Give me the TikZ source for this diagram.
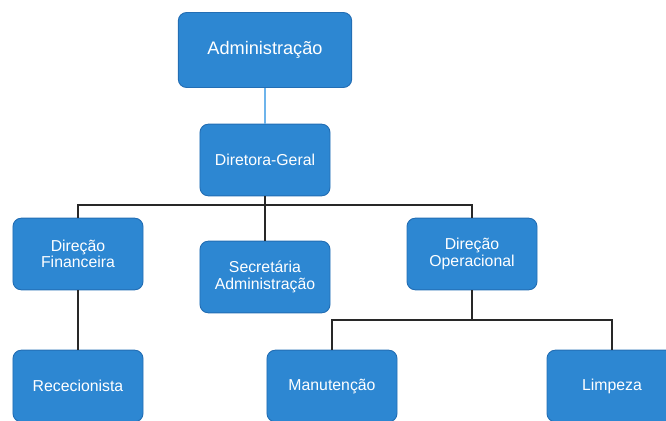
\documentclass[tikz,border=0pt]{standalone}
\usepackage{fontspec}
\setmainfont{Liberation Sans}
\begin{document}
\begin{tikzpicture}[x=0.03cm, y=-0.03cm,
    unit/.style={draw=myedge, fill=myblue, rounded corners=0.25cm, line width=0.8pt,
        text=white, align=center, minimum width=3.9cm, minimum height=2.15cm,
        font=\fontsize{13.5}{14}\selectfont},
    link/.style={draw=mylink, line width=0.9pt}]
    \definecolor{myblue}{RGB}{45,135,210}
    \definecolor{myedge}{RGB}{35,110,180}
    \definecolor{mylink}{RGB}{40,40,40}
    \definecolor{mytop}{RGB}{110,180,235}

    \useasboundingbox (0,0) rectangle (666,421);

    \node[unit, minimum width=5.2cm, minimum height=2.25cm,
        font=\fontsize{15.5}{17}\selectfont] (adm) at (265,50) {Administração};
    \node[unit] (geral) at (265,160) {Diretora-Geral};
    \node[unit] (fin) at (78,254) {Direção\\Financeira};
    \node[unit] (sec) at (265,277) {Secretária\\Administração};
    \node[unit] (oper) at (472,254) {Direção\\Operacional};
    \node[unit] (rec) at (78,386) {Rececionista};
    \node[unit] (man) at (332,386) {Manutenção};
    \node[unit] (limp) at (612,386) {Limpeza};

    \coordinate (bus) at (265,205);
    \coordinate (subbus) at (472,320);

    \draw[draw=mytop, line width=0.9pt] (adm) -- (geral);
    \draw[link] (geral) -- (bus);
    \draw[link] (fin.north) |- (bus) -| (oper.north);
    \draw[link] (sec.north) -- (sec.north |- bus);
    \draw[link] (fin) -- (rec);
    \draw[link] (oper) -- (subbus);
    \draw[link] (man.north) |- (subbus) -| (limp.north);
\end{tikzpicture}
\end{document}
